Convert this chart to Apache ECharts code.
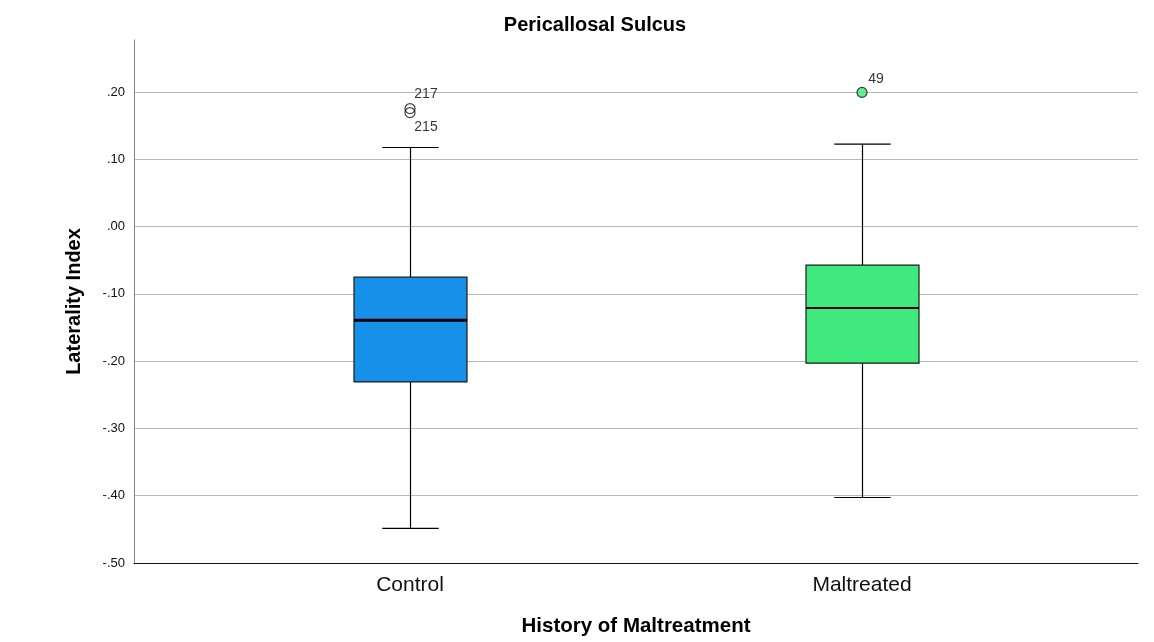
<!DOCTYPE html>
<html>
<head>
<meta charset="utf-8">
<script src="https://cdn.jsdelivr.net/npm/echarts@6/dist/echarts.min.js"></script>
<style>
  html, body { margin: 0; padding: 0; background: #fff; }
  #chart { width: 1154px; height: 642px; }
</style>
</head>
<body>
<div id="chart"></div>
<script>
// Groups on the horizontal axis
const categories = ['Control', 'Maltreated'];
// Five-number summaries per group: [lower whisker, Q1, median, Q3, upper whisker]
const boxStats = [
  [-0.450, -0.232, -0.140, -0.076, 0.117],
  [-0.404, -0.204, -0.122, -0.058, 0.122]
];
// Outliers: [group index, value, case id]
const outliers = [
  [0, 0.175, '217'],
  [0, 0.169, '215'],
  [1, 0.199, '49']
];
// Tick values and their printed labels on the vertical axis
const yTicks = [-0.5, -0.4, -0.3, -0.2, -0.1, 0.0, 0.1, 0.2];
const yTickLabels = ['-.50', '-.40', '-.30', '-.20', '-.10', '.00', '.10', '.20'];

const boxColors = ['#1790E9', '#40E97D'];
const medianWidths = [3, 2];
const FONT = 'Liberation Sans, Arial, Helvetica, sans-serif';
const Y_MIN = -0.5, Y_MAX = 0.277;

function tickLabel(v) {
  for (let i = 0; i < yTicks.length; i++) {
    if (Math.abs(yTicks[i] - v) < 1e-6) return yTickLabels[i];
  }
  return '';
}

const chart = echarts.init(document.getElementById('chart'), null, { renderer: 'canvas' });

const option = {
  animation: false,
  backgroundColor: '#ffffff',
  textStyle: { fontFamily: FONT },
  graphic: [{
    type: 'text',
    x: 595,
    y: 25,
    style: {
      text: 'Pericallosal Sulcus',
      fontFamily: FONT,
      fontSize: 20,
      fontWeight: 'bold',
      fill: '#000',
      textAlign: 'center',
      textVerticalAlign: 'middle'
    }
  }],
  grid: [
    // frame: left and bottom axis lines
    { left: 134, right: 16, top: 40, bottom: 79 },
    // horizontal reference lines and tick labels
    { left: 134, right: 16, top: 92, bottom: 79 },
    // boxes and outliers
    { left: 184, right: 66, top: 40, bottom: 79 }
  ],
  xAxis: [
    {
      gridIndex: 0, type: 'value', min: 0, max: 1, z: 5,
      axisLine: { show: true, onZero: false, lineStyle: { color: '#111', width: 1 } },
      axisTick: { show: false }, axisLabel: { show: false }, splitLine: { show: false }
    },
    {
      gridIndex: 1, type: 'value', min: 0, max: 1, show: false
    },
    {
      gridIndex: 2, type: 'category', data: categories,
      axisLine: { show: false }, axisTick: { show: false }, splitLine: { show: false },
      axisLabel: { fontSize: 21, color: '#111', margin: 13, fontFamily: FONT },
      name: 'History of Maltreatment',
      nameLocation: 'middle',
      nameGap: 54,
      nameTextStyle: { fontSize: 20.5, fontWeight: 'bold', color: '#000', fontFamily: FONT }
    }
  ],
  yAxis: [
    {
      gridIndex: 0, type: 'value', min: Y_MIN, max: Y_MAX, z: 5,
      axisLine: { show: true, onZero: false, lineStyle: { color: '#888', width: 1 } },
      axisTick: { show: false }, axisLabel: { show: false }, splitLine: { show: false },
      name: 'Laterality Index',
      nameLocation: 'middle',
      nameGap: 50,
      nameTextStyle: { fontSize: 20, fontWeight: 'bold', color: '#000', fontFamily: FONT }
    },
    {
      gridIndex: 1, type: 'value', min: -0.5, max: 0.2, interval: 0.1,
      axisLine: { show: false }, axisTick: { show: false },
      axisLabel: { fontSize: 13, color: '#111', margin: 9, fontFamily: FONT, formatter: tickLabel },
      splitLine: { show: true, lineStyle: { color: '#b8b8b8', width: 1 } }
    },
    {
      gridIndex: 2, type: 'value', min: Y_MIN, max: Y_MAX, show: false
    }
  ],
  series: [
    {
      type: 'custom',
      xAxisIndex: 2, yAxisIndex: 2,
      z: 3,
      data: boxStats.map((s, i) => [i].concat(s)),
      encode: { x: 0, y: [1, 2, 3, 4, 5] },
      renderItem: function (params, api) {
        const idx = api.value(0);
        const band = api.size([1, 0])[0];
        const boxW = band * 0.25;
        const capW = band * 0.125;
        const lo = api.coord([idx, api.value(1)]);
        const q1 = api.coord([idx, api.value(2)]);
        const md = api.coord([idx, api.value(3)]);
        const q3 = api.coord([idx, api.value(4)]);
        const hi = api.coord([idx, api.value(5)]);
        const cx = Math.round(q1[0]) + 0.5;
        const line = (x1, y1, x2, y2, w) => ({
          type: 'line',
          shape: { x1: x1, y1: y1, x2: x2, y2: y2 },
          style: { stroke: '#000', lineWidth: w || 1.2 }
        });
        return {
          type: 'group',
          children: [
            line(cx, hi[1], cx, q3[1]),
            line(cx, q1[1], cx, lo[1]),
            line(cx - capW / 2, hi[1], cx + capW / 2, hi[1]),
            line(cx - capW / 2, lo[1], cx + capW / 2, lo[1]),
            {
              type: 'rect',
              shape: { x: cx - boxW / 2, y: q3[1], width: boxW, height: q1[1] - q3[1] },
              style: { fill: boxColors[idx], stroke: '#1a1a1a', lineWidth: 1.2 }
            },
            line(cx - boxW / 2, md[1], cx + boxW / 2, md[1], medianWidths[idx])
          ]
        };
      }
    },
    {
      type: 'scatter',
      xAxisIndex: 2, yAxisIndex: 2,
      z: 4,
      symbol: 'circle',
      symbolSize: 10,
      data: outliers.map((o) => {
        const filled = o[0] === 1;
        const below = o[2] === '215';
        return {
          value: [o[0], o[1]],
          itemStyle: {
            color: filled ? boxColors[1] : 'rgba(255,255,255,0)',
            borderColor: '#111',
            borderWidth: 1.2
          },
          label: {
            show: true,
            formatter: o[2],
            position: 'inside',
            offset: filled ? [14, -13] : (below ? [16, 15] : [16, -14]),
            fontSize: 14,
            color: '#000',
            fontFamily: FONT
          }
        };
      })
    }
  ]
};

chart.setOption(option);
</script>
</body>
</html>
